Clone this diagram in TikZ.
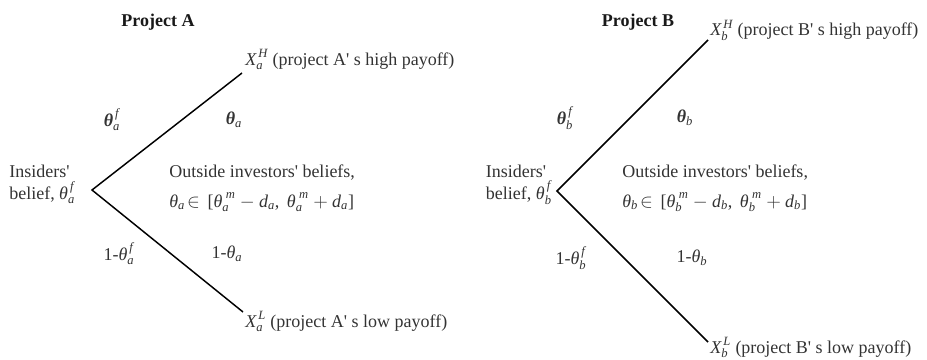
\documentclass[tikz,border=0pt]{standalone}
\usepackage{amsmath}
\usepackage{fontspec}
\setmainfont{Liberation Serif}
\usepackage{tikz}

% italic and bold italic letters taken from the text font
\newcommand{\iv}[1]{\text{\itshape #1}}
\newcommand{\bv}[1]{\text{\bfseries\itshape #1}}
\newcommand{\sq}{\textquotesingle}

\tikzset{
  lbl/.style={font=\fontsize{13.5}{16}\selectfont, text=black!80, inner sep=0pt},
  ttl/.style={lbl, font=\fontsize{13.5}{16}\selectfont\bfseries, text=black!90},
  branch/.style={line width=1.1pt}
}

\begin{document}
\begin{tikzpicture}[x=0.75pt, y=-0.75pt]
\useasboundingbox (0,0) rectangle (927,360);

% Project A
\node[ttl] (titleA) at (158,22) {Project A};
\coordinate (rootA) at (92,190);
\coordinate (hiA) at (242,73);
\coordinate (loA) at (243,312);
\draw[branch] (hiA) -- (rootA) -- (loA);
\node[lbl, anchor=base west] (payHA) at (245,65) {$\iv{X}_{\iv{a}}^{\,\iv{H}}$ (project A\sq\ s high payoff)};
\node[lbl, anchor=base west] (payLA) at (245,327) {$\iv{X}_{\iv{a}}^{\,\iv{L}}$ (project A\sq\ s low payoff)};
\node[lbl, anchor=base west] (belA) at (9,199) {belief, $\iv{θ}_{\iv{a}}^{\,\iv{f}}$};
\node[lbl, anchor=base west] (insA) at ([yshift=16.5pt]belA.base west) {Insiders\sq};
\node[lbl] (pfA) at (112,120) {$\bv{θ}_{\iv{a}}^{\,\iv{f}}$};
\node[lbl] (poA) at (234,120) {$\bv{θ}_{\iv{a}}$};
\node[lbl] (qfA) at (119,254) {1-$\iv{θ}_{\iv{a}}^{\,\iv{f}}$};
\node[lbl] (qoA) at (227,254) {1-$\iv{θ}_{\iv{a}}$};
\node[lbl, anchor=base west] (outA) at (169,177) {Outside investors\sq\ beliefs,};
\node[lbl, anchor=base west] (rngA) at (169,207)
  {$\iv{θ}_{\iv{a}}\!\in$ \,[$\iv{θ}_{\iv{a}}^{\;\iv{m}} - \iv{d}_{\iv{a}}$,\, $\iv{θ}_{\iv{a}}^{\;\iv{m}} + \iv{d}_{\iv{a}}$]};

% Project B
\node[ttl] (titleB) at (638,22) {Project B};
\coordinate (rootB) at (557,191);
\coordinate (hiB) at (708,40);
\coordinate (loB) at (708,342);
\draw[branch] (hiB) -- (rootB) -- (loB);
\node[lbl, anchor=base west] (payHB) at (710,36) {$\iv{X}_{\iv{b}}^{\,\iv{H}}$ (project B\sq\ s high payoff)};
\node[lbl, anchor=base west] (payLB) at (710,353) {$\iv{X}_{\iv{b}}^{\,\iv{L}}$ (project B\sq\ s low payoff)};
\node[lbl, anchor=base east] (belB) at (552,199) {belief, $\iv{θ}_{\iv{b}}^{\,\iv{f}}$};
\node[lbl, anchor=base west] (insB) at ([yshift=16.5pt]belB.base west) {Insiders\sq};
\node[lbl] (pfB) at (565,118) {$\bv{θ}_{\iv{b}}^{\,\iv{f}}$};
\node[lbl] (poB) at (685,118) {$\bv{θ}_{\iv{b}}$};
\node[lbl] (qfB) at (571,258) {1-$\iv{θ}_{\iv{b}}^{\,\iv{f}}$};
\node[lbl] (qoB) at (692,258) {1-$\iv{θ}_{\iv{b}}$};
\node[lbl, anchor=base west] (outB) at (622,177) {Outside investors\sq\ beliefs,};
\node[lbl, anchor=base west] (rngB) at (622,207)
  {$\iv{θ}_{\iv{b}}\!\in$ \,[$\iv{θ}_{\iv{b}}^{\;\iv{m}} - \iv{d}_{\iv{b}}$,\, $\iv{θ}_{\iv{b}}^{\;\iv{m}} + \iv{d}_{\iv{b}}$]};
\end{tikzpicture}
\end{document}
